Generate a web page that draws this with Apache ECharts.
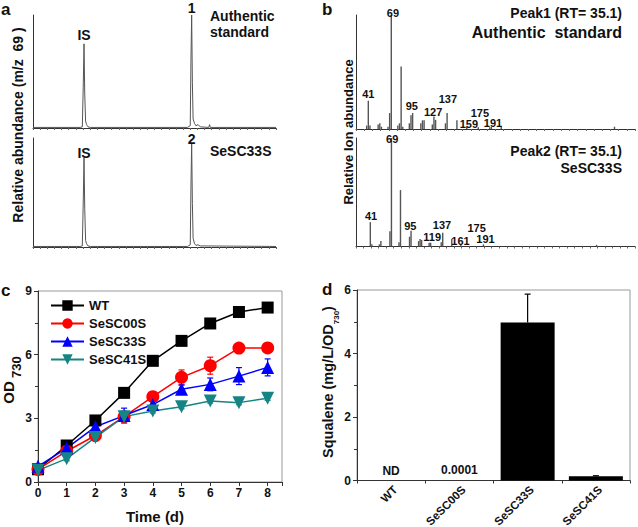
<!DOCTYPE html>
<html>
<head>
<meta charset="utf-8">
<script src="https://cdn.jsdelivr.net/npm/echarts@6/dist/echarts.min.js"></script>
<style>
html, body { margin: 0; padding: 0; background: #fff; }
#main { width: 638px; height: 527px; }
</style>
</head>
<body>
<div id="main"></div>
<script>
// ---- panel a: GC-MS chromatograms, m/z 69 [retention time, relative abundance %]
var chromStd = [
    [24, 0.5], [27.3, 0.5], [27.45, 1], [27.52, 40], [27.57, 74.5], [27.62, 30], [27.68, 6],
    [27.75, 3], [27.85, 1], [28, 0.5], [34.8, 0.5], [35.0, 2], [35.05, 60], [35.1, 100],
    [35.15, 40], [35.2, 8], [35.3, 4], [35.4, 2], [35.55, 3], [35.7, 1], [36.3, 0.5],
    [36.35, 3], [36.4, 0.5], [41, 0.5]
];
var chromSample = [
    [24, 0.5], [27.3, 0.5], [27.45, 1], [27.52, 45], [27.57, 82], [27.62, 35], [27.68, 6],
    [27.75, 3], [27.85, 1], [28, 0.5], [34.8, 0.5], [35.0, 2], [35.05, 55], [35.1, 95.4],
    [35.15, 40], [35.2, 8], [35.3, 3], [35.4, 1.5], [35.55, 2], [35.7, 1], [41, 0.5]
];
var chromTagsStd = [[27.57, 82.3, 'IS'], [35.1, 106, '1']];
var chromTagsSample = [[27.57, 86.2, 'IS'], [35.1, 99.1, '2']];

// ---- panel b: mass spectra [m/z, relative intensity %]
var msStd = [
    [39, 3], [41, 24.8], [43, 3], [53, 4], [55, 5], [57, 2], [65, 2], [67, 14], [69, 100],
    [77, 3], [79, 5], [81, 54.8], [83, 2], [91, 5], [93, 12], [95, 14], [105, 5], [107, 7.6],
    [109, 7.6], [119, 4], [121, 11], [123, 8], [135, 5], [137, 14], [149, 7.6], [161, 2],
    [175, 1.5], [189, 1.5], [191, 2], [203, 2], [341, 2]
];
var msSample = [
    [41, 22.5], [43, 2], [53, 2], [55, 5], [67, 14], [69, 100], [79, 4], [81, 52], [93, 9],
    [95, 14.5], [105, 5], [107, 7], [109, 6], [119, 3.5], [121, 3.5], [135, 4], [137, 12.6],
    [149, 7], [161, 2], [191, 2], [341, 1.5]
];
var msStdTags = [[41, 31, '41'], [71, 101.5, '69'], [94, 20.4, '95'], [120, 14.5, '127'],
    [138, 26.2, '137'], [163.5, 4.4, '159'], [177, 14, '175'], [193, 5.2, '191']];
var msSampleTags = [[42, 27.7, '41'], [70, 99.4, '69'], [94, 18.5, '95'], [123, 9.2, '119'],
    [136, 20, '137'], [160.5, 5.3, '161'], [182, 17.5, '175'], [193.7, 7.1, '191']];

// ---- panel c: growth, OD730
var days = [0, 1, 2, 3, 4, 5, 6, 7, 8];
var odWT = [0.6, 1.72, 2.9, 4.2, 5.71, 6.65, 7.47, 8.01, 8.22];
var odWTErr = [0.1, 0.1, 0.1, 0.1, 0.1, 0.1, 0.1, 0.1, 0.1];
var od00 = [0.6, 1.45, 2.19, 3.08, 4.02, 4.93, 5.48, 6.31, 6.32];
var od00Err = [0.1, 0.15, 0.2, 0.2, 0.2, 0.35, 0.4, 0.2, 0.15];
var od33 = [0.74, 1.6, 2.6, 3.13, 3.65, 4.37, 4.6, 4.99, 5.4];
var od33Err = [0.1, 0.15, 0.3, 0.35, 0.3, 0.2, 0.3, 0.4, 0.4];
var od41 = [0.55, 1.1, 2.1, 3.08, 3.35, 3.55, 3.82, 3.74, 3.95];
var od41Err = [0.1, 0.1, 0.1, 0.1, 0.1, 0.1, 0.1, 0.1, 0.1];

// ---- panel d: squalene titre
var strains = ['WT', 'SeSC00S', 'SeSC33S', 'SeSC41S'];
var squalene = [0, 0.0001, 4.98, 0.13];
var squaleneErr = [0, 0, 0.89, 0.02];
var squaleneText = ['ND', '0.0001', '', ''];

var F = '"Liberation Sans", Arial, sans-serif';
var AX = '#333';

var chart = echarts.init(document.getElementById('main'), null, {renderer: 'svg'});

var bare = function (grid, min, max, extra) {
    var ax = {
        type: 'value', gridIndex: grid, min: min, max: max,
        axisLine: {show: true, lineStyle: {color: AX, width: 1}},
        axisTick: {show: false}, axisLabel: {show: false}, splitLine: {show: false}
    };
    return Object.assign(ax, extra || {});
};

// text tags centred on a data-space anchor
var tagSeries = function (x, y, data, size) {
    return {
        type: 'scatter', xAxisIndex: x, yAxisIndex: y, symbolSize: 0, silent: true, clip: false, z: 5,
        itemStyle: {opacity: 1},
        data: data.map(function (d) { return {value: [d[0], d[1]], name: d[2]}; }),
        label: {
            show: true, position: 'inside', formatter: '{b}',
            fontFamily: F, fontWeight: 'bold', fontSize: size, color: '#111'
        }
    };
};

var errorBars = function (color, upOnly) {
    return function (params, api) {
        var x = api.value(0);
        var lo = api.coord([x, api.value(1)]);
        var hi = api.coord([x, api.value(2)]);
        var w = 3;
        var st = {stroke: color, lineWidth: 1.2};
        var kids = [
            {type: 'line', shape: {x1: lo[0], y1: lo[1], x2: hi[0], y2: hi[1]}, style: st},
            {type: 'line', shape: {x1: hi[0] - w, y1: hi[1], x2: hi[0] + w, y2: hi[1]}, style: st}
        ];
        if (!upOnly) {
            kids.push({type: 'line', shape: {x1: lo[0] - w, y1: lo[1], x2: lo[0] + w, y2: lo[1]}, style: st});
        }
        return {type: 'group', children: kids};
    };
};

var growth = [
    {name: 'WT', vals: odWT, err: odWTErr, color: '#000000', symbol: 'rect', size: 12, rot: 0},
    {name: 'SeSC00S', vals: od00, err: od00Err, color: '#ff0000', symbol: 'circle', size: 13, rot: 0},
    {name: 'SeSC33S', vals: od33, err: od33Err, color: '#0000ff', symbol: 'triangle', size: 13, rot: 0},
    {name: 'SeSC41S', vals: od41, err: od41Err, color: '#158484', symbol: 'triangle', size: 13, rot: 180}
];

var series = [
    {type: 'line', xAxisIndex: 0, yAxisIndex: 0, data: chromStd, showSymbol: false, silent: true,
        lineStyle: {color: '#555', width: 1}},
    {type: 'line', xAxisIndex: 1, yAxisIndex: 1, data: chromSample, showSymbol: false, silent: true,
        lineStyle: {color: '#555', width: 1}},
    tagSeries(0, 0, chromTagsStd, 14),
    tagSeries(1, 1, chromTagsSample, 14),
    {type: 'bar', xAxisIndex: 2, yAxisIndex: 2, data: msStd, barWidth: 1.4, silent: true,
        itemStyle: {color: '#555'}},
    {type: 'bar', xAxisIndex: 3, yAxisIndex: 3, data: msSample, barWidth: 1.4, silent: true,
        itemStyle: {color: '#555'}},
    tagSeries(2, 2, msStdTags, 11),
    tagSeries(3, 3, msSampleTags, 11)
];

growth.forEach(function (g) {
    series.push({
        type: 'custom', name: g.name + ' err', xAxisIndex: 4, yAxisIndex: 4, z: 1,
        renderItem: errorBars(g.color, false),
        data: days.map(function (d, i) { return [d, g.vals[i] - g.err[i], g.vals[i] + g.err[i]]; })
    });
    series.push({
        type: 'line', name: g.name, xAxisIndex: 4, yAxisIndex: 4, z: 3,
        data: days.map(function (d, i) { return [d, g.vals[i]]; }),
        symbol: g.symbol, symbolSize: g.size, symbolRotate: g.rot, showAllSymbol: true,
        lineStyle: {color: g.color, width: 1.5},
        itemStyle: {color: g.color, borderWidth: 0}
    });
});

series.push({
    type: 'bar', xAxisIndex: 5, yAxisIndex: 5, data: squalene, barWidth: 54,
    itemStyle: {color: '#000'},
    label: {
        show: true, position: 'top', distance: 4,
        formatter: function (p) { return squaleneText[p.dataIndex]; },
        fontFamily: F, fontWeight: 'bold', fontSize: 12, color: '#111'
    }
});
series.push({
    type: 'custom', xAxisIndex: 5, yAxisIndex: 5, z: 3,
    renderItem: errorBars('#000', true),
    data: strains.map(function (s, i) { return [i, squalene[i], squalene[i] + squaleneErr[i]]; })
        .filter(function (d, i) { return squaleneErr[i] > 0; })
});

var txt = function (x, y, text, size, align, vAlign, rot) {
    return {
        type: 'text', x: x, y: y, rotation: rot || 0, silent: true,
        style: {
            text: text, fontFamily: F, fontWeight: 'bold', fontSize: size, fill: '#111',
            align: align || 'left', verticalAlign: vAlign || 'middle'
        }
    };
};

var option = {
    animation: false,
    backgroundColor: '#fff',
    grid: [
        {left: 33, top: 15, width: 243, height: 113, outerBoundsMode: 'none'},
        {left: 33, top: 138, width: 243, height: 109, outerBoundsMode: 'none'},
        {left: 356, top: 15, width: 279, height: 114, outerBoundsMode: 'none'},
        {left: 356, top: 138, width: 279, height: 108.5, outerBoundsMode: 'none'},
        {left: 38, top: 291, width: 244, height: 191, show: true, borderColor: '#999', borderWidth: 1,
            outerBoundsMode: 'none'},
        {left: 357, top: 290, width: 273, height: 190.5, show: true, borderColor: '#999', borderWidth: 1,
            outerBoundsMode: 'none'}
    ],
    xAxis: [
        bare(0, 24, 41, {interval: 0.5, axisTick: {show: true, length: 2, lineStyle: {color: '#666'}}}),
        bare(1, 24, 41, {interval: 0.5, axisTick: {show: true, length: 2, lineStyle: {color: '#666'}}}),
        bare(2, 26, 366, {interval: 10, axisTick: {show: true, length: 2, lineStyle: {color: '#666'}}}),
        bare(3, 22, 392, {interval: 10, axisTick: {show: true, length: 2, lineStyle: {color: '#666'}}}),
        {
            type: 'value', gridIndex: 4, min: 0, max: 8.5, interval: 1,
            axisLine: {lineStyle: {color: AX}},
            axisTick: {length: 4, lineStyle: {color: AX}},
            axisLabel: {
                fontFamily: F, fontWeight: 'bold', fontSize: 12, color: '#111', margin: 5,
                formatter: function (v) { return v % 1 === 0 ? v : ''; }
            },
            splitLine: {show: false}
        },
        {
            type: 'category', gridIndex: 5, data: strains,
            axisLine: {lineStyle: {color: AX}},
            axisTick: {show: true, length: 3, lineStyle: {color: AX}},
            axisLabel: {
                rotate: 45, verticalAlign: 'top', margin: 3,
                fontFamily: F, fontWeight: 'bold', fontSize: 11.5, color: '#111'
            }
        }
    ],
    yAxis: [
        bare(0, 0, 100),
        bare(1, 0, 100),
        bare(2, 0, 100),
        bare(3, 0, 100),
        {
            type: 'value', gridIndex: 4, min: 0, max: 9, interval: 3,
            axisLine: {show: true, lineStyle: {color: AX}},
            axisTick: {show: true, length: 4, lineStyle: {color: AX}},
            minorTick: {show: true, splitNumber: 2, length: 3, lineStyle: {color: AX}},
            axisLabel: {fontFamily: F, fontWeight: 'bold', fontSize: 12, color: '#111', margin: 6},
            splitLine: {show: false}
        },
        {
            type: 'value', gridIndex: 5, min: 0, max: 6, interval: 2,
            axisLine: {show: true, lineStyle: {color: AX}},
            axisTick: {show: true, length: 4, lineStyle: {color: AX}},
            minorTick: {show: true, splitNumber: 2, length: 3, lineStyle: {color: AX}},
            axisLabel: {fontFamily: F, fontWeight: 'bold', fontSize: 12, color: '#111', margin: 6},
            splitLine: {show: false}
        }
    ],
    legend: {
        data: growth.map(function (g) { return g.name; }),
        orient: 'vertical', left: 45, top: 294, itemGap: 5,
        itemWidth: 33, itemHeight: 13,
        textStyle: {fontFamily: F, fontWeight: 'bold', fontSize: 13, color: '#111'}
    },
    graphic: [
        txt(1, 9, 'a', 17),
        txt(322, 9, 'b', 17),
        txt(1, 290, 'c', 17),
        txt(322, 289, 'd', 17),
        txt(18, 125, 'Relative abundance (m/z  69 )', 14, 'center', 'middle', Math.PI / 2),
        txt(210, 16, 'Authentic', 14),
        txt(210, 32, 'standard', 14),
        txt(210, 151, 'SeSC33S', 14),
        txt(348, 132, 'Relative Ion abundance', 13, 'center', 'middle', Math.PI / 2),
        txt(622, 12.5, 'Peak1 (RT= 35.1)', 14, 'right'),
        txt(622, 32, 'Authentic  standard', 16, 'right'),
        txt(622, 150.5, 'Peak2 (RT= 35.1)', 14, 'right'),
        txt(622, 168, 'SeSC33S', 14, 'right'),
        txt(155, 516, 'Time (d)', 15, 'center'),
        {
            type: 'text', x: 12, y: 380, rotation: Math.PI / 2, silent: true,
            style: {
                text: '{m|OD} {s|730}', align: 'center', verticalAlign: 'middle',
                rich: {
                    m: {fontFamily: F, fontWeight: 'bold', fontSize: 15, fill: '#111', lineHeight: 22, verticalAlign: 'top'},
                    s: {fontFamily: F, fontWeight: 'bold', fontSize: 13, fill: '#111', lineHeight: 22, verticalAlign: 'bottom'}
                }
            }
        },
        {
            type: 'text', x: 330, y: 382, rotation: Math.PI / 2, silent: true,
            style: {
                text: '{m|Squalene (mg/L/OD}{s|730}{m|)}', align: 'center', verticalAlign: 'middle',
                rich: {
                    m: {fontFamily: F, fontWeight: 'bold', fontSize: 14.5, fill: '#111', lineHeight: 20, verticalAlign: 'top'},
                    s: {fontFamily: F, fontWeight: 'bold', fontSize: 8, fill: '#111', lineHeight: 20, verticalAlign: 'bottom'}
                }
            }
        }
    ],
    series: series
};

chart.setOption(option);
</script>
</body>
</html>
